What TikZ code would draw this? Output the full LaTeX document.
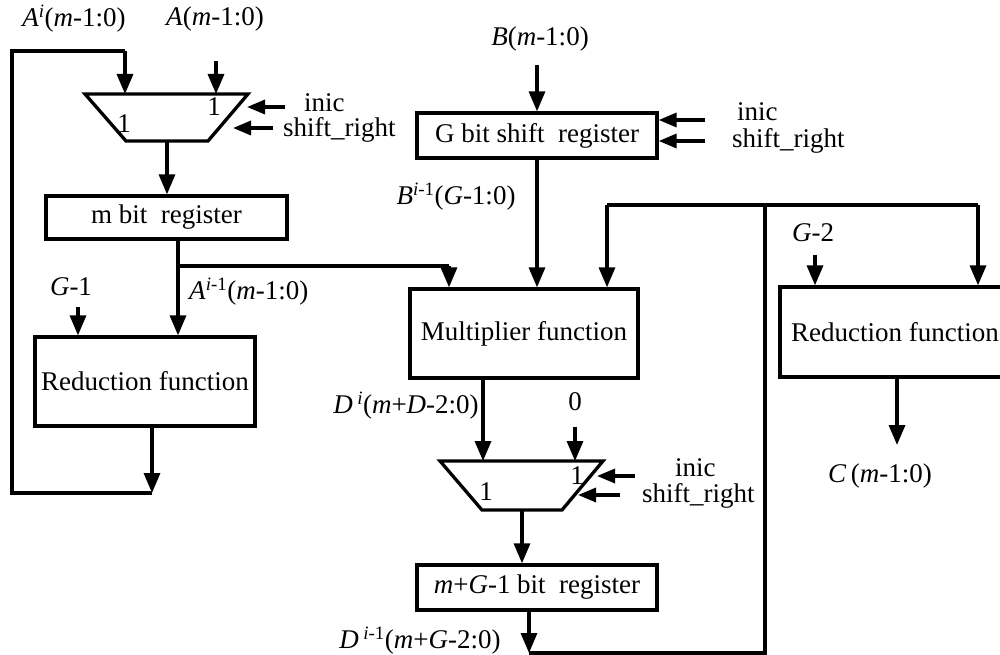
\documentclass[tikz,border=0pt]{standalone}
\usepackage{fontspec}
\setmainfont{Liberation Serif}
\usetikzlibrary{arrows.meta}
\begin{document}
\begin{tikzpicture}[x=1pt,y=-1pt,
  wire/.style={line width=3.3pt},
  arr/.style={wire,-{Triangle[length=20pt,width=16pt]}},
  sarr/.style={wire,-{Triangle[length=18pt,width=14pt]}},
  blk/.style={draw,line width=3.3pt,inner sep=0pt,font=\fontsize{27}{30}\selectfont},
  lbl/.style={inner sep=0pt,font=\fontsize{27}{29}\selectfont},
  mux/.style={line width=3.3pt,line join=miter},
]
\useasboundingbox (0,0) rectangle (1000,655);

% ---------- boxes ----------
\node[blk,minimum width=241pt,minimum height=43pt] (mreg) at (166.5,217.5) {m bit\ \ register};
\node[blk,minimum width=220pt,minimum height=89pt] (redL) at (145,381.5) {Reduction function};
\node[blk,minimum width=240pt,minimum height=45pt] (greg) at (537,135.5) {G bit shift\ \ register};
\node[blk,minimum width=228pt,minimum height=89pt] (mult) at (524,333.5) {Multiplier function};
\node[blk,minimum width=230pt,minimum height=90pt] (redR) at (895,332) {Reduction function};
\node[blk,minimum width=240pt,minimum height=45pt] (dreg) at (537,587.5) {\textit{m}+\textit{G}-1 bit\ \ register};

% ---------- multiplexers ----------
\coordinate (m1a) at (85,94);  \coordinate (m1b) at (248,94);
\coordinate (m1c) at (208,141); \coordinate (m1d) at (126,141);
\draw[mux] (m1a) -- (m1b) -- (m1c) -- (m1d) -- cycle;
\node[lbl] (m1l) at (124,124) {1};
\node[lbl] (m1r) at (214,107) {1};

\coordinate (m2a) at (440,461); \coordinate (m2b) at (603,461);
\coordinate (m2c) at (562,510); \coordinate (m2d) at (482,510);
\draw[mux] (m2a) -- (m2b) -- (m2c) -- (m2d) -- cycle;
\node[lbl] (m2l) at (486,492) {1};
\node[lbl] (m2r) at (577,476) {1};

% ---------- labels ----------
\node[lbl] (lAi) at (74,19) {\textit{A}\textsuperscript{\textit{i}}(\textit{m}-1:0)};
\node[lbl] (lA) at (215,19) {\textit{A}(\textit{m}-1:0)};
\node[lbl] (lB) at (540,39) {\textit{B}(\textit{m}-1:0)};
\node[lbl,anchor=west] (inic1) at (304,103) {inic};
\node[lbl,anchor=west] (sr1) at (283,130) {shift\_right};
\node[lbl,anchor=west] (inic2) at (737,112) {inic};
\node[lbl,anchor=west] (sr2) at (732,141) {shift\_right};
\node[lbl,anchor=west] (inic3) at (675,468) {inic};
\node[lbl,anchor=west] (sr3) at (642,496) {shift\_right};
\node[lbl] (lBi) at (456,197) {\textit{B}\textsuperscript{\textit{i}-1}(\textit{G}-1:0)};
\node[lbl,anchor=west] (lAi1) at (189,292) {\textit{A}\textsuperscript{\textit{i}-1}(\textit{m}-1:0)};
\node[lbl] (lG1) at (71,287) {\textit{G}-1};
\node[lbl] (lG2) at (813,233) {\textit{G}-2};
\node[lbl] (lDi) at (406,406) {\textit{D}\,\textsuperscript{\textit{i}}(\textit{m}+\textit{D}-2:0)};
\node[lbl] (l0) at (575,402) {0};
\node[lbl] (lC) at (880,476) {\textit{C}\,(\textit{m}-1:0)};
\node[lbl] (lDi1) at (420,641) {\textit{D}\,\textsuperscript{\textit{i}-1}(\textit{m}+\textit{G}-2:0)};

% ---------- coordinates ----------
\coordinate (fb) at (152,493);
\coordinate (fbL) at (12,493);
\coordinate (fbT) at (12,51);
\coordinate (m1in1) at (125,51);
\coordinate (m1in2) at (216,61);
\coordinate (jA) at (178,266);
\coordinate (jM) at (449,266);
\coordinate (g1) at (78,307);
\coordinate (bIn) at (537,65);
\coordinate (bus) at (765,205);
\coordinate (busL) at (607,205);
\coordinate (busR) at (978,205);
\coordinate (bot) at (765,653);
\coordinate (dOut) at (529,653);
\coordinate (z0) at (575,427);
\coordinate (g2) at (815,255);
\coordinate (cOut) at (897,445);

% ---------- left part ----------
\draw[arr] (redL.south -| fb) -- (fb);
\draw[wire] (fb) -- (fbL) -- (fbT) -- (m1in1);
\draw[arr] (m1in1) -- (m1in1 |- m1a);
\draw[arr] (m1in2) -- (m1in2 |- m1a);
\draw[arr] (167,141) -- (mreg.north -| 167,0);
\draw[wire] (mreg.south -| jA) -- (jA);
\draw[arr] (jA) -- (redL.north -| jA);
\draw[wire] (jA) -- (jM);
\draw[arr] (jM) -- (mult.north -| jM);
\draw[arr] (g1) -- (redL.north -| g1);
\draw[sarr] (285,107) -- (247,107);
\draw[sarr] (273,128) -- (233,128);

% ---------- middle part ----------
\draw[arr] (bIn) -- (greg.north -| bIn);
\draw[arr] (greg.south -| bIn) -- (mult.north -| bIn);
\draw[sarr] (705,120) -- (greg.east |- 0,120);
\draw[sarr] (705,141) -- (greg.east |- 0,141);
\draw[arr] (mult.south -| 483,0) -- (483,461);
\draw[arr] (z0) -- (z0 |- m2a);
\draw[sarr] (635,476) -- (597,476);
\draw[sarr] (620,495) -- (578,495);
\draw[arr] (522,510) -- (dreg.north -| 522,0);
\draw[arr] (dreg.south -| dOut) -- (dOut);
\draw[wire] (dOut) -- (bot) -- (bus);
\draw[wire] (busL) -- (busR);
\draw[arr] (busL) -- (mult.north -| busL);

% ---------- right part ----------
\draw[arr] (busR) -- (redR.north -| busR);
\draw[arr] (g2) -- (redR.north -| g2);
\draw[arr] (redR.south -| cOut) -- (cOut);
\end{tikzpicture}
\end{document}
